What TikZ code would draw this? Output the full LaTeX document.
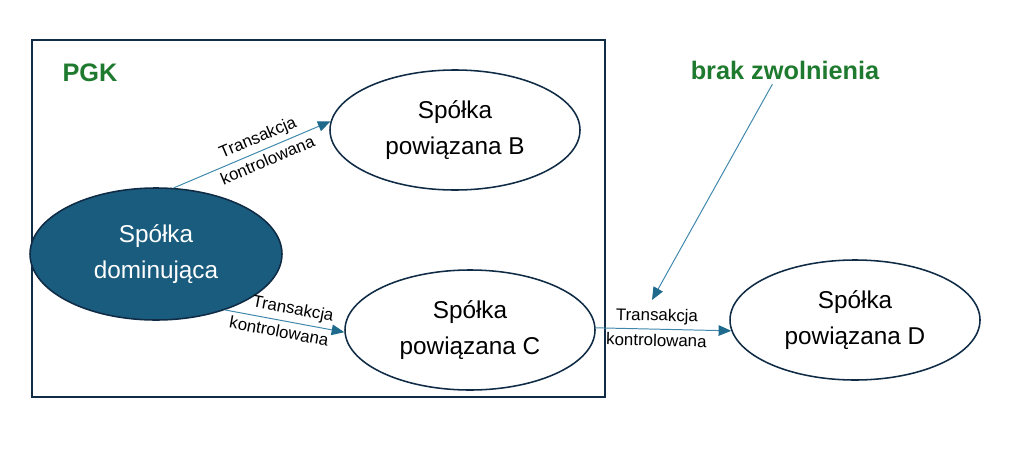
\documentclass[tikz,border=0pt]{standalone}
\usepackage{fontspec}
\setmainfont{Liberation Sans}
\usetikzlibrary{arrows.meta,shapes.geometric}

\definecolor{navy}{HTML}{0F2B45}
\definecolor{teal}{HTML}{1A5C7E}
\definecolor{lineblue}{HTML}{3F88AC}
\definecolor{tipblue}{HTML}{1D6A8D}
\definecolor{pgkgreen}{HTML}{1E7A2E}

\tikzset{
  spolka/.style={ellipse, draw=navy, line width=1.1pt, fill=white,
    minimum width=250*0.025cm, minimum height=120*0.025cm, inner sep=0pt,
    align=center, font=\fontsize{17.3}{26}\selectfont},
  arr/.style={draw=lineblue, line width=0.7pt,
    -{Triangle[length=9pt,width=7.5pt,color=tipblue]}},
  lbl/.style={sloped, font=\fontsize{12}{13}\selectfont, inner sep=3pt},
  tytul/.style={text=pgkgreen, font=\fontsize{18}{20}\selectfont\bfseries}
}

\begin{document}
\begin{tikzpicture}[x=0.025cm, y=-0.025cm]
    \useasboundingbox (0,0) rectangle (1024,474);
    % ramka grupy
    \draw[navy, line width=1.1pt] (32,40) rectangle (605,397);
    \node[tytul] (pgk) at (90,73) {PGK};

    \node[spolka, fill=teal, text=white, minimum width=252*0.025cm,
      minimum height=132*0.025cm] (dom) at (156,254) {Spółka\\dominująca};
    \node[spolka] (B) at (455,130) {Spółka\\powiązana B};
    \node[spolka] (C) at (470,330) {Spółka\\powiązana C};
    \node[spolka] (D) at (855,320) {Spółka\\powiązana D};

    \node[tytul] (brak) at (785,70) {brak zwolnienia};
    \coordinate (grot) at (652,300);

    \draw[arr] (dom.75) -- node[lbl, above, pos=0.57] {Transakcja}
      node[lbl, below, pos=0.57] {kontrolowana} (B.176);
    \draw[arr] (dom.-39) -- node[lbl, above, pos=0.55] {Transakcja}
      node[lbl, below, pos=0.47] {kontrolowana} (C.181);
    \draw[arr] (C.1) -- node[lbl, above, pos=0.45] {Transakcja}
      node[lbl, below, pos=0.45] {kontrolowana} (D.185);
    \draw[arr] ([xshift=-9pt]brak.south) -- (grot);
\end{tikzpicture}
\end{document}
